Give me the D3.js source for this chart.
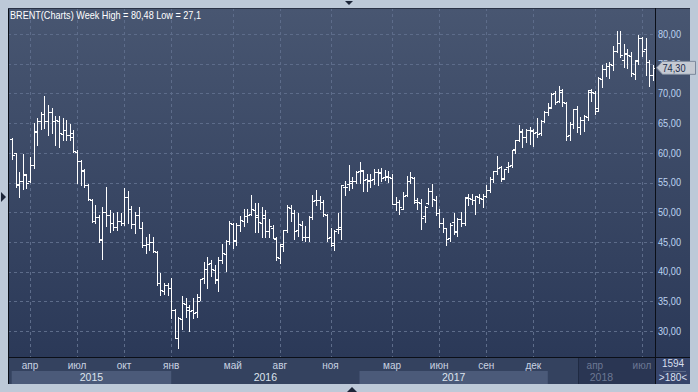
<!DOCTYPE html>
<html><head><meta charset="utf-8">
<script src="https://cdn.jsdelivr.net/npm/d3@7"></script>
<style>html,body{margin:0;padding:0;background:#bdc9d8;overflow:hidden}svg{display:block}</style>
</head><body><svg id="c" width="698" height="392"></svg>
<script>
const title = "BRENT(Charts) Week High = 80,48 Low = 27,1";
const firstWeek = "2015-03-02";
const lastWeek = "2018-07-23";
const opens = [62.3,59.9,54.5,55.3,56.2,55.2,58.0,63.6,65.3,66.5,65.3,66.8,65.4,65.3,63.2,63.8,63.0,62.7,60.2,58.7,56.9,54.6,52.1,48.6,49.2,45.3,50.0,49.6,48.1,47.5,48.5,48.1,52.5,50.5,48.0,49.6,47.4,44.5,44.7,44.9,43.3,38.0,36.8,37.8,37.3,33.5,28.9,32.0,34.5,33.5,33.6,33.2,35.8,39.0,40.5,41.5,40.3,38.6,41.9,42.9,45.1,48.0,45.2,47.8,48.5,49.3,49.7,50.3,49.5,48.2,49.6,46.8,47.3,45.5,42.3,44.6,47.0,50.7,49.9,47.0,47.9,45.9,45.9,49.2,52.0,52.0,51.8,49.6,45.8,44.4,47.1,47.5,54.3,54.7,55.0,55.2,56.9,57.0,55.6,55.2,55.6,56.7,56.6,56.0,56.1,55.8,51.3,51.7,50.6,52.9,55.2,55.8,51.8,51.6,49.3,51.5,53.6,52.1,49.8,48.2,47.3,45.6,48.3,46.8,48.9,48.1,52.4,52.3,52.1,52.6,52.2,52.8,53.8,55.6,56.9,57.6,55.8,57.6,57.9,60.6,62.1,63.7,62.6,63.9,63.9,63.5,63.3,65.3,66.8,67.7,70.0,68.8,70.3,68.4,63.0,64.8,67.4,64.4,65.5,66.1,70.2,70.1,67.5,72.5,74.1,74.6,74.7,77.1,78.5,75.7,76.6,76.3,73.3,75.4,79.3,77.5,75.3,73.1];
const highs = [62.5,60.0,56.8,59.8,56.5,59.3,65.0,65.8,66.9,69.6,68.0,67.5,66.2,66.2,65.8,65.5,64.9,63.8,60.5,58.8,57.2,54.8,52.2,51.2,49.5,50.9,54.2,50.4,49.8,50.1,49.8,54.0,53.5,51.0,50.0,50.9,48.4,45.9,46.4,45.9,43.4,39.7,38.0,38.0,38.9,33.7,32.3,35.9,35.6,34.3,35.5,36.3,38.8,41.6,42.5,42.0,41.1,42.4,44.6,45.3,48.5,48.2,48.2,49.4,50.5,50.5,52.9,51.6,51.5,50.8,50.3,48.8,47.8,45.8,44.6,47.0,51.2,51.2,50.3,49.9,48.5,47.7,49.4,52.9,53.7,52.7,52.0,49.7,47.3,47.0,49.9,54.6,55.3,57.9,56.0,57.0,58.4,57.1,56.5,56.4,57.3,57.2,57.5,57.1,56.9,56.4,52.6,52.1,53.4,56.1,56.7,56.0,52.4,52.2,51.1,54.0,54.7,52.7,50.5,49.0,47.4,48.1,49.9,49.0,50.1,52.6,53.1,53.0,52.8,53.1,53.0,54.5,56.0,57.0,59.5,57.8,57.3,58.5,60.5,62.2,64.6,64.0,64.0,64.4,64.0,65.8,65.6,67.0,68.3,70.1,70.4,71.3,70.7,68.5,65.2,67.3,67.8,66.1,66.4,70.5,70.7,70.4,72.7,74.8,75.2,75.3,78.0,80.5,80.5,78.3,77.5,77.0,75.6,79.8,79.5,79.4,75.6,74.8];
const lows = [59.0,54.3,52.5,53.9,54.0,55.1,57.4,61.3,64.0,64.1,63.0,63.4,61.3,60.9,62.2,62.2,62.2,60.2,55.0,54.6,54.2,52.1,48.4,48.2,45.0,42.2,47.6,46.7,47.0,47.0,47.8,47.8,48.1,47.3,46.5,47.3,44.2,43.1,43.6,43.3,37.7,36.1,36.3,36.1,32.2,28.8,27.1,30.4,32.4,30.0,32.2,32.3,35.3,38.0,37.3,39.2,38.0,36.8,41.5,40.1,44.6,43.9,44.4,46.9,47.6,48.4,49.6,46.7,46.7,45.8,45.9,45.9,45.6,41.9,41.5,43.4,46.6,48.6,45.5,46.0,45.4,45.1,45.2,48.9,51.2,50.5,49.3,45.2,44.3,43.6,46.5,45.5,52.9,53.7,54.0,55.0,54.9,53.6,53.6,54.2,54.7,54.6,55.2,55.5,55.1,51.3,50.3,49.7,50.5,52.7,55.0,51.6,50.5,47.1,48.4,51.3,51.0,49.6,47.5,46.7,44.4,45.2,46.4,46.0,47.6,47.8,51.2,51.4,49.7,51.5,50.8,52.6,53.4,55.1,56.5,55.3,55.6,56.7,57.6,59.9,62.0,61.0,61.8,61.5,61.1,62.6,63.0,65.2,66.3,67.5,68.2,68.5,67.8,62.2,62.2,64.2,63.5,63.1,63.6,65.5,68.7,66.6,67.1,71.0,73.0,72.6,73.9,77.0,76.2,74.5,74.2,72.9,72.5,75.0,76.3,73.1,71.2,72.3];
const closes = [59.7,54.7,55.3,56.4,55.0,57.9,63.5,65.3,66.5,65.4,66.8,65.4,65.6,63.3,63.9,63.0,63.3,60.3,58.7,57.1,54.6,52.2,48.6,49.2,45.5,50.0,49.6,48.1,47.5,48.6,48.1,52.6,50.5,48.0,49.6,47.4,44.5,44.7,44.9,43.4,38.0,36.9,37.8,37.3,33.5,28.9,32.2,34.7,34.1,33.4,33.0,35.1,38.7,40.4,41.2,40.4,38.7,41.9,43.1,45.1,48.1,45.4,47.8,48.7,49.3,49.6,50.5,49.2,48.4,49.0,46.8,47.6,45.7,42.5,44.3,47.0,50.9,49.9,46.8,48.0,45.8,45.9,49.2,51.9,52.0,51.8,49.7,45.6,44.8,46.9,47.2,54.5,54.3,55.2,55.2,56.8,57.1,55.5,55.5,55.5,56.8,56.7,55.8,56.0,55.9,51.4,51.8,50.8,52.8,55.2,55.9,52.0,51.7,49.1,50.8,53.6,52.2,49.9,48.2,47.4,45.5,47.9,46.7,48.9,48.1,52.5,52.4,52.1,52.7,52.4,52.8,53.8,55.6,56.9,57.5,55.6,57.2,57.8,60.4,62.1,63.5,62.7,63.9,63.7,63.4,63.2,65.3,66.9,67.6,69.9,68.6,70.5,68.6,62.8,64.8,67.3,64.4,65.5,66.2,70.5,70.3,67.1,72.6,74.1,74.6,74.9,77.1,78.5,76.4,76.8,76.5,73.4,75.6,79.4,77.1,75.3,73.1,74.3];
const priceTicks = [30,35,40,45,50,55,60,65,70,75,80];
const monthTicks = [["2015-04-06","апр"],["2015-07-06","июл"],["2015-10-05","окт"],["2016-01-04","янв"],["2016-05-02","май"],["2016-08-01","авг"],["2016-11-07","ноя"],["2017-03-06","мар"],["2017-06-05","июн"],["2017-09-04","сен"],["2017-12-04","дек"],["2018-04-02","апр"],["2018-07-02","июл"]];
const yearBands = [["2015","2015-03-02","2016-01-04",true],["2016","2016-01-04","2017-01-02",false],["2017","2017-01-02","2018-01-01",true],["2018","2018-01-01","2018-08-13",false]];
const fadedFrom = "2018-03-05";
const lastPrice = 74.30;
const barCount = "1594";
const zoomLabel = ">180<";

const parse = d3.timeParse("%Y-%m-%d");
const weeks = d3.timeMonday.range(parse(firstWeek), d3.timeDay.offset(parse(lastWeek), 1));
const data = weeks.map((d,i)=>({d, o:opens[i], h:highs[i], l:lows[i], c:closes[i]}));

const svg = d3.select("#c");
const W=698,H=392;
const L=8,T=8,R=655,B=357,RE=690,BE=384;
const FF = "Liberation Sans, Arial, sans-serif";
const fmt = v => d3.format(".2f")(v).replace(".", ",");

const x = d3.scaleTime().domain([parse(firstWeek), parse(lastWeek)]).range([11.9, 652.8]);
const y = d3.scaleLinear().domain([30,80]).range([331,34]);
const px = v => Math.round(v)+0.5;

const defs = svg.append("defs");
const g1 = defs.append("linearGradient").attr("id","bg").attr("x1",0).attr("y1",0).attr("x2",0).attr("y2",1);
g1.append("stop").attr("offset","0%").attr("stop-color","#485671");
g1.append("stop").attr("offset","100%").attr("stop-color","#2b3958");
defs.append("clipPath").attr("id","plot").append("rect").attr("x",L).attr("y",T).attr("width",R-L).attr("height",B-T);

svg.append("rect").attr("width",W).attr("height",H).attr("fill","#bdc9d8");
svg.append("rect").attr("x",L).attr("y",T).attr("width",RE-L).attr("height",B-T).attr("fill","url(#bg)");
svg.append("rect").attr("x",L).attr("y",B).attr("width",R-L).attr("height",BE-B).attr("fill","#34425f");
svg.append("rect").attr("x",R).attr("y",B).attr("width",RE-R).attr("height",BE-B).attr("fill","#36446a");

const grid = svg.append("g").attr("stroke","#5d6c8a").attr("stroke-width",1).attr("stroke-dasharray","3,3");
grid.selectAll("line.h").data(priceTicks).join("line").attr("class","h")
  .attr("x1",L).attr("x2",R).attr("y1",d=>px(y(d))).attr("y2",d=>px(y(d)));
grid.selectAll("line.v").data(monthTicks).join("line").attr("class","v")
  .attr("x1",d=>px(x(parse(d[0])))).attr("x2",d=>px(x(parse(d[0])))).attr("y1",T).attr("y2",B);

const bandX0 = b => b[0]==="2015" ? 11.7 : x(parse(b[1]));
const bandX1 = b => Math.min(R, x(parse(b[2])));
svg.append("g").selectAll("rect").data(yearBands.filter(b=>b[3])).join("rect")
  .attr("x",bandX0).attr("y",371).attr("width",b=>bandX1(b)-bandX0(b)).attr("height",BE-371).attr("fill","#4b5a79");
const xf = Math.round(x(parse(fadedFrom)))-2;
svg.append("rect").attr("x",xf).attr("y",B).attr("width",R-xf).attr("height",BE-B).attr("fill","#2a3653");
svg.append("line").attr("x1",xf+0.5).attr("x2",xf+0.5).attr("y1",B).attr("y2",BE).attr("stroke","#1f2a42");

svg.append("g").selectAll("text").data(monthTicks).join("text")
  .attr("x",d=>x(parse(d[0]))).attr("y",369).attr("text-anchor","middle")
  .attr("font-family",FF).attr("font-size","10px")
  .attr("fill",d=>x(parse(d[0]))>xf?"#6c7893":"#c9d3e2").text(d=>d[1]);
svg.append("g").selectAll("text").data(yearBands).join("text")
  .attr("x",d=>(bandX0(d)+bandX1(d))/2).attr("y",381).attr("text-anchor","middle")
  .attr("font-family",FF).attr("font-size","10.5px")
  .attr("fill",d=>d[0]==="2018"?"#6c7893":"#dde4ee").text(d=>d[0]);

const bars = svg.append("g").attr("clip-path","url(#plot)").attr("stroke","#ffffff").attr("stroke-width",1).attr("shape-rendering","crispEdges");
bars.selectAll("line.hl").data(data).join("line").attr("class","hl")
  .attr("x1",d=>px(x(d.d))).attr("x2",d=>px(x(d.d)))
  .attr("y1",d=>Math.round(y(d.h))).attr("y2",d=>Math.round(y(d.l))+1);
bars.selectAll("line.o").data(data).join("line").attr("class","o")
  .attr("x1",d=>Math.round(x(d.d))-2).attr("x2",d=>Math.round(x(d.d)))
  .attr("y1",d=>px(y(d.o))).attr("y2",d=>px(y(d.o)));
bars.selectAll("line.c").data(data).join("line").attr("class","c")
  .attr("x1",d=>Math.round(x(d.d))+1).attr("x2",d=>Math.round(x(d.d))+3)
  .attr("y1",d=>px(y(d.c))).attr("y2",d=>px(y(d.c)));

svg.append("text").attr("x",10).attr("y",18.5).attr("font-family",FF)
  .attr("font-size","10.5px").attr("textLength",191).attr("lengthAdjust","spacingAndGlyphs")
  .attr("fill","#ffffff").text(title);

svg.append("g").selectAll("text").data(priceTicks).join("text")
  .attr("x",658).attr("y",d=>y(d)+3.8)
  .attr("font-family",FF).attr("font-size","10.3px").attr("textLength",23).attr("lengthAdjust","spacingAndGlyphs")
  .attr("fill","#bcd2f0").text(d=>fmt(d));

const fr = svg.append("g").attr("stroke","#0b0f18").attr("shape-rendering","crispEdges");
fr.append("line").attr("x1",L+0.5).attr("x2",L+0.5).attr("y1",T).attr("y2",BE);
fr.append("line").attr("x1",L).attr("x2",RE).attr("y1",T+0.5).attr("y2",T+0.5).attr("stroke","#2a3246");
fr.append("line").attr("x1",R+0.5).attr("x2",R+0.5).attr("y1",T).attr("y2",BE);
fr.append("line").attr("x1",L).attr("x2",RE).attr("y1",B+0.5).attr("y2",B+0.5);

const ly = y(lastPrice);
svg.append("path").attr("d",`M656.5,${ly} L662.5,${ly-6.5} L695.5,${ly-6.5} L695.5,${ly+6.5} L662.5,${ly+6.5} Z`)
  .attr("fill","#c5cad3").attr("stroke","#7d889c");
svg.append("text").attr("x",662.5).attr("y",ly+3.8).attr("font-family",FF)
  .attr("font-size","10.3px").attr("textLength",23).attr("lengthAdjust","spacingAndGlyphs")
  .attr("fill","#1c2a48").text(fmt(lastPrice));

svg.append("text").attr("x",673).attr("y",367).attr("text-anchor","middle").attr("font-family",FF)
  .attr("font-size","10px").attr("fill","#d6dfee").text(barCount);
svg.append("line").attr("x1",663).attr("x2",686).attr("y1",371.5).attr("y2",371.5).attr("stroke","#5a6886");
svg.append("text").attr("x",673).attr("y",381).attr("text-anchor","middle").attr("font-family",FF)
  .attr("font-size","10px").attr("fill","#d6dfee").text(zoomLabel);

svg.append("path").attr("d","M1,192 L6,197 L1,202 Z").attr("fill","#1c2538");
svg.append("path").attr("d","M345,1 L353,1 L349,5 Z").attr("fill","#1c2538");
svg.append("path").attr("d","M347,392 L357,392 L352,387 Z").attr("fill","#1c2538");
</script></body></html>
